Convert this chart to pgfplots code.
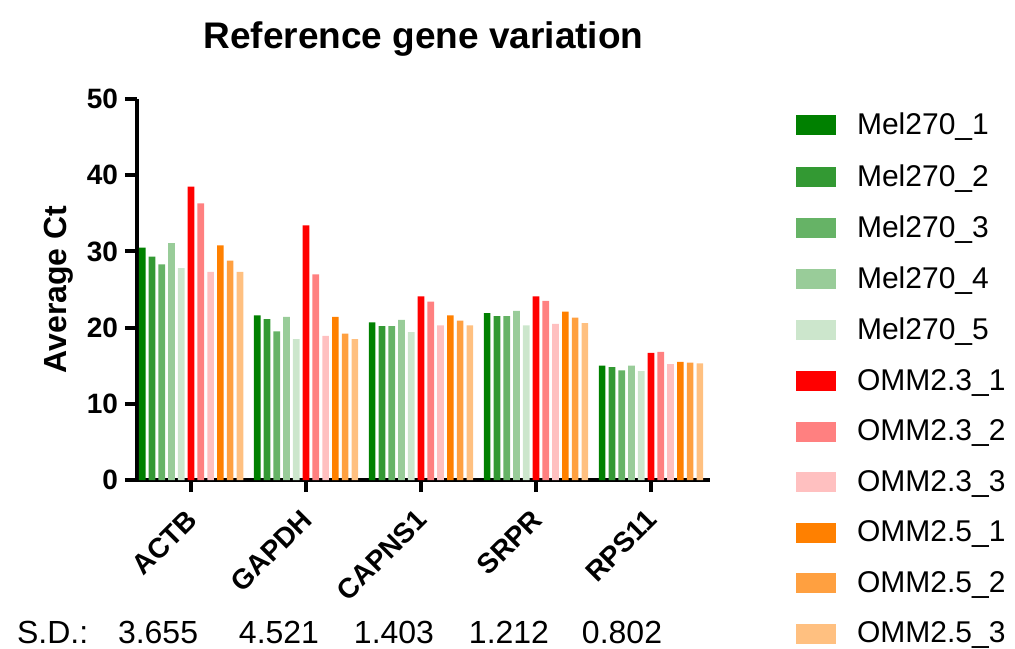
\documentclass[border=0pt]{standalone}
\usepackage{fontspec}
\setmainfont{Liberation Sans}
\usepackage{pgfplots}
\usepackage{pgfplotstable}
\pgfplotsset{compat=1.18}

\definecolor{mA}{RGB}{0,128,0}
\definecolor{mB}{RGB}{51,153,51}
\definecolor{mC}{RGB}{102,179,102}
\definecolor{mD}{RGB}{153,204,153}
\definecolor{mE}{RGB}{204,230,204}
\definecolor{rA}{RGB}{255,0,0}
\definecolor{rB}{RGB}{255,128,128}
\definecolor{rC}{RGB}{255,192,192}
\definecolor{oA}{RGB}{255,128,0}
\definecolor{oB}{RGB}{255,160,64}
\definecolor{oC}{RGB}{255,192,128}

% average Ct per gene (rows) and sample (columns)
\pgfplotstableread{
x  m1   m2   m3   m4   m5   a1   a2   a3   b1   b2   b3
0  30.5 29.3 28.3 31.1 27.8 38.5 36.3 27.3 30.8 28.8 27.3
1  21.6 21.1 19.5 21.4 18.5 33.4 27.0 18.9 21.4 19.2 18.5
2  20.7 20.2 20.2 21.0 19.4 24.1 23.4 20.3 21.6 20.9 20.3
3  21.9 21.5 21.5 22.2 20.3 24.1 23.5 20.5 22.1 21.3 20.6
4  15.0 14.8 14.4 15.0 14.3 16.7 16.8 15.2 15.5 15.4 15.3
}\ctdata

\begin{document}
\begin{tikzpicture}
\useasboundingbox (-68.5pt,-84pt) rectangle (439pt,240pt);
\begin{axis}[
  scale only axis, width=286.5pt, height=190.5pt,
  ybar, bar width=0.058,
  xmin=-0.47, xmax=4.513, ymin=0, ymax=50,
  axis x line*=bottom, axis y line*=left,
  axis line style={line width=2pt, -},
  major tick style={line width=2pt, black},
  tick align=outside, major tick length=6pt,
  xtick={0,...,4}, xticklabels={ACTB,GAPDH,CAPNS1,SRPR,RPS11},
  ytick={0,10,...,50},
  /pgf/number format/assume math mode=true,
  yticklabel style={font=\bfseries\fontsize{14}{17}\selectfont},
  xticklabel style={font=\bfseries\fontsize{14}{17}\selectfont, xshift=3pt, yshift=-9pt, rotate=45, anchor=east},
  ylabel={Average Ct},
  ylabel style={font=\bfseries\fontsize{16}{19}\selectfont},
  title={Reference gene variation},
  title style={font=\bfseries\fontsize{18.5}{22}\selectfont, at={(0.5,1)}, anchor=base, yshift=19.5pt},
  clip=false,
  legend style={draw=none, fill=none, at={(1.139,0.985)}, anchor=north west,
    font=\fontsize{15}{18}\selectfont, row sep=9.25pt,
    /tikz/every odd column/.append style={column sep=8.5pt}},
  legend cell align=left,
  legend image code/.code={\fill[#1,draw=none] (0pt,-5pt) rectangle (20pt,5pt);},
]
\addplot[fill=mA, draw=none, bar shift=-0.425] table[x=x,y=m1] {\ctdata};
\addlegendentry{Mel270\_1}
\addplot[fill=mB, draw=none, bar shift=-0.34] table[x=x,y=m2] {\ctdata};
\addlegendentry{Mel270\_2}
\addplot[fill=mC, draw=none, bar shift=-0.255] table[x=x,y=m3] {\ctdata};
\addlegendentry{Mel270\_3}
\addplot[fill=mD, draw=none, bar shift=-0.17] table[x=x,y=m4] {\ctdata};
\addlegendentry{Mel270\_4}
\addplot[fill=mE, draw=none, bar shift=-0.085] table[x=x,y=m5] {\ctdata};
\addlegendentry{Mel270\_5}
\addplot[fill=rA, draw=none, bar shift=0] table[x=x,y=a1] {\ctdata};
\addlegendentry{OMM2.3\_1}
\addplot[fill=rB, draw=none, bar shift=0.085] table[x=x,y=a2] {\ctdata};
\addlegendentry{OMM2.3\_2}
\addplot[fill=rC, draw=none, bar shift=0.17] table[x=x,y=a3] {\ctdata};
\addlegendentry{OMM2.3\_3}
\addplot[fill=oA, draw=none, bar shift=0.255] table[x=x,y=b1] {\ctdata};
\addlegendentry{OMM2.5\_1}
\addplot[fill=oB, draw=none, bar shift=0.34] table[x=x,y=b2] {\ctdata};
\addlegendentry{OMM2.5\_2}
\addplot[fill=oC, draw=none, bar shift=0.425] table[x=x,y=b3] {\ctdata};
\addlegendentry{OMM2.5\_3}

% standard deviation row under the gene names
\begin{scope}[font=\fontsize{16}{19}\selectfont]
\node[anchor=base west] at (axis cs:-1.574,-21.4) {S.D.:};
\node[anchor=base] at (axis cs:-0.287,-21.4) {3.655};
\node[anchor=base] at (axis cs:0.765,-21.4) {4.521};
\node[anchor=base] at (axis cs:1.765,-21.4) {1.403};
\node[anchor=base] at (axis cs:2.765,-21.4) {1.212};
\node[anchor=base] at (axis cs:3.748,-21.4) {0.802};
\end{scope}
\end{axis}
\end{tikzpicture}
\end{document}
